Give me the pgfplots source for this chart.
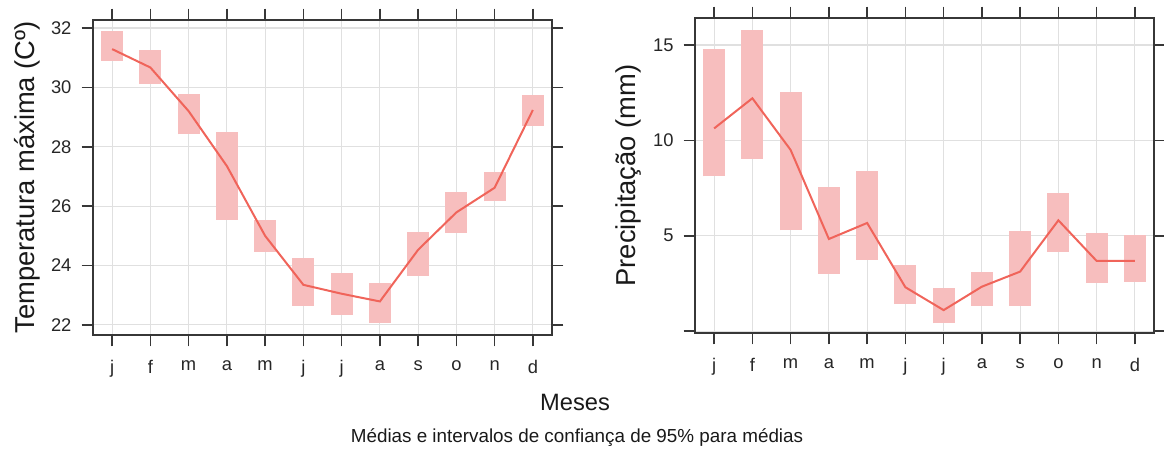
\documentclass[border=0pt]{standalone}
\usepackage{pgfplots}
\usepackage{pgfplotstable}
\pgfplotsset{compat=1.18}
\usepackage{fontspec}
\setmainfont{Liberation Sans}
\definecolor{boxfill}{RGB}{247,190,190}
\definecolor{linered}{RGB}{240,100,90}
\definecolor{gridgray}{RGB}{224,224,224}
\definecolor{framegray}{RGB}{55,55,55}

\pgfplotstableread{
x mean lo hi
0 31.29 30.90 31.91
1 30.67 30.11 31.27
2 29.20 28.42 29.79
3 27.35 25.55 28.51
4 25.00 24.46 25.52
5 23.35 22.65 24.25
6 23.05 22.34 23.75
7 22.79 22.06 23.41
8 24.53 23.66 25.12
9 25.79 25.10 26.47
10 26.62 26.16 27.16
11 29.24 28.70 29.75
}\temptable

\pgfplotstableread{
x mean lo hi
0 10.63 8.12 14.79
1 12.21 9.05 15.81
2 9.50 5.28 12.56
3 4.83 3.00 7.54
4 5.67 3.74 8.39
5 2.30 1.42 3.47
6 1.10 0.40 2.25
7 2.33 1.33 3.12
8 3.12 1.32 5.23
9 5.81 4.14 7.25
10 3.68 2.51 5.14
11 3.68 2.60 5.02
}\prectable

\pgfplotsset{
  panel/.style={
    scale only axis,
    width=275.4pt, height=189pt,
    xmin=-0.5, xmax=11.5,
    xtick={0,...,11},
    xticklabels={j,f,m,a,m,j,j,a,s,o,n,d},
    tick pos=both,
    tick align=outside,
    major tick length=6.8pt,
    grid=major,
    major grid style={gridgray, line width=0.7pt},
    axis line style={framegray, line width=0.9pt},
    every tick/.style={framegray, line width=0.9pt},
    tick label style={font=\fontsize{11}{13}\selectfont, text=black!85},
    /pgf/number format/assume math mode=true,
    xticklabel style={yshift=-5pt},
    yticklabel style={xshift=-2.6pt},
    ylabel style={font=\fontsize{16.4}{18}\selectfont, text=black!90},
  },
  boxes/.style={
    draw=none, mark=none, forget plot,
    error bars/.cd, y dir=plus, y explicit, error mark=none,
    error bar style={boxfill, line width=13.2pt},
  },
}

\begin{document}
\begin{tikzpicture}
\begin{axis}[panel, name=left,
  ymin=21.66, ymax=32.27,
  ytick={22,24,...,32},
  ylabel={Temperatura máxima (Cº)},
  ylabel style={at={(axis description cs:-0.144,0.5)}, anchor=center},
]
\addplot[boxes] table[x=x, y=lo, y error expr=\thisrow{hi}-\thisrow{lo}] {\temptable};
\addplot[linered, line width=1.2pt, mark=none] table[x=x, y=mean] {\temptable};
\end{axis}

\begin{axis}[panel, name=right, at={(361.2pt,1.2pt)}, anchor=south west,
  ymin=-0.1, ymax=16.42,
  ytick={0,5,10,15},
  yticklabels={,5,10,15},
  ylabel={Precipitação (mm)},
  ylabel style={at={(axis description cs:-0.146,0.5)}, anchor=center},
]
\addplot[boxes] table[x=x, y=lo, y error expr=\thisrow{hi}-\thisrow{lo}] {\prectable};
\addplot[linered, line width=1.2pt, mark=none] table[x=x, y=mean] {\prectable};
\end{axis}

\node[font=\fontsize{14.2}{16}\selectfont, text=black!90] at (289.2pt,-40.2pt) {Meses};
\node[font=\fontsize{11.3}{13}\selectfont, text=black!90] at (290.4pt,-61.8pt) {Médias e intervalos de confiança de 95\% para médias};

\pgfresetboundingbox
\path (-55.8pt,-69.6pt) rectangle (642.6pt,201pt);
\end{tikzpicture}
\end{document}
